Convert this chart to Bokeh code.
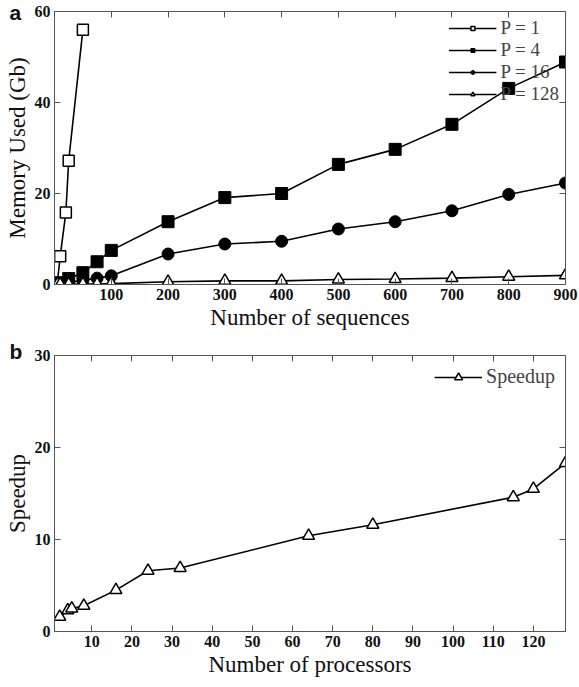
from bokeh.plotting import figure
from bokeh.layouts import column
from bokeh.models import LinearAxis, FixedTicker, Range1d, Legend
from bokeh.embed import file_html
from bokeh.resources import INLINE

# Panel a data
p1_x = [5, 10, 20, 25, 50]
p1_y = [0.3, 6.2, 15.8, 27.2, 56.0]
seq_x = [5, 10, 25, 50, 75, 100, 200, 300, 400, 500, 600, 700, 800, 900]
p4_y = [0.2, 0.4, 1.3, 2.6, 5.0, 7.5, 13.8, 19.1, 20.0, 26.4, 29.7, 35.2, 43.1, 48.9]
p16_y = [0.05, 0.1, 0.5, 0.9, 1.4, 1.9, 6.7, 8.9, 9.5, 12.2, 13.8, 16.2, 19.8, 22.3]
p128_y = [0.02, 0.03, 0.05, 0.1, 0.1, 0.2, 0.6, 0.8, 0.8, 1.1, 1.2, 1.4, 1.7, 2.0]
a_xticks = [100, 200, 300, 400, 500, 600, 700, 800, 900]
a_yticks = [0, 20, 40, 60]

# Panel b data
proc_x = [2, 4, 5, 8, 16, 24, 32, 64, 80, 115, 120, 128]
speedup = [1.6, 2.3, 2.5, 2.8, 4.5, 6.6, 6.9, 10.4, 11.6, 14.6, 15.5, 18.3]
b_xticks = [10, 20, 30, 40, 50, 60, 70, 80, 90, 100, 110, 120]
b_yticks = [0, 10, 20, 30]

SERIF = "Liberation Serif"


def style_axes(p, xticks, yticks, xlabel, ylabel):
    bottom = p.below[0]
    left = p.left[0]
    bottom.ticker = FixedTicker(ticks=xticks)
    left.ticker = FixedTicker(ticks=yticks)
    right = LinearAxis(ticker=FixedTicker(ticks=yticks),
                       major_label_overrides={t: "" for t in yticks})
    top = LinearAxis(ticker=FixedTicker(ticks=xticks),
                     major_label_overrides={t: "" for t in xticks})
    p.add_layout(right, "right")
    p.add_layout(top, "above")
    for ax in [right, top]:
        ax.major_label_standoff = 0
        ax.major_label_text_font_size = "1px"
    for ax in [bottom, left, right, top]:
        ax.major_tick_in = 6
        ax.major_tick_out = 0
        ax.minor_tick_line_color = None
        ax.axis_line_color = "#555555"
        ax.major_tick_line_color = "#555555"
        ax.major_label_text_font = SERIF
        ax.axis_label_text_font = SERIF
        ax.axis_label_text_font_style = "normal"
        ax.axis_label_text_color = "#111111"
        ax.major_label_text_color = "#111111"
    for ax in [bottom, left]:
        ax.major_label_text_font_size = "16px"
        ax.major_label_text_font_style = "bold"
        ax.axis_label_text_font_size = "23px"
        ax.major_label_standoff = 4
        ax.axis_label_standoff = 2
    bottom.axis_label = xlabel
    left.axis_label = ylabel
    p.xgrid.visible = False
    p.ygrid.visible = False
    p.outline_line_color = "#555555"


def panel_letter(p, letter, standoff):
    p.title.text = letter
    p.title.align = "left"
    p.title.vertical_align = "bottom"
    p.title.offset = -45
    p.title.standoff = standoff
    p.title.text_font = "Liberation Sans"
    p.title.text_font_size = "21px"
    p.title.text_font_style = "bold"
    p.title.text_color = "#111111"


pa = figure(width=579, height=335, output_backend="svg", toolbar_location=None,
            x_range=Range1d(0, 900), y_range=Range1d(0, 60),
            min_border_left=54, min_border_right=14, min_border_top=11, min_border_bottom=51)
style_axes(pa, a_xticks, a_yticks, "Number of sequences", "Memory Used (Gb)")
panel_letter(pa, "a", -24)

lw = 1.6
r1l = pa.line(p1_x, p1_y, line_color="black", line_width=lw)
r1s = pa.scatter(p1_x, p1_y, marker="square", size=11, fill_color="white", line_color="black", line_width=1.5)
r4l = pa.line(seq_x, p4_y, line_color="black", line_width=lw)
r4s = pa.scatter(seq_x, p4_y, marker="square", size=12, fill_color="black", line_color="black")
r16l = pa.line(seq_x, p16_y, line_color="black", line_width=lw)
r16s = pa.scatter(seq_x, p16_y, marker="circle", size=12, fill_color="black", line_color="black")
r128l = pa.line(seq_x, p128_y, line_color="black", line_width=lw)
r128s = pa.scatter(seq_x, p128_y, marker="triangle", size=12, fill_color="white", line_color="black", line_width=1.5)

leg_a = Legend(items=[("P = 1", [r1l, r1s]), ("P = 4", [r4l, r4s]),
                      ("P = 16", [r16l, r16s]), ("P = 128", [r128l, r128s])],
               location="top_right", background_fill_alpha=0, border_line_alpha=0,
               label_text_font=SERIF, label_text_font_size="19px",
               label_height=10, glyph_height=10, glyph_width=48, spacing=-8,
               padding=0, margin=6, label_standoff=4)
pa.add_layout(leg_a)

pb = figure(width=579, height=352, output_backend="svg", toolbar_location=None,
            x_range=Range1d(0.7, 128), y_range=Range1d(0, 30),
            min_border_left=54, min_border_right=6, min_border_top=20, min_border_bottom=56)
style_axes(pb, b_xticks, b_yticks, "Number of processors", "Speedup")
panel_letter(pb, "b", -14)
rbl = pb.line(proc_x, speedup, line_color="black", line_width=lw)
rbs = pb.scatter(proc_x, speedup, marker="triangle", size=12, fill_color="white", line_color="black", line_width=1.5)
leg_b = Legend(items=[("Speedup", [rbl, rbs])], location="top_right",
               background_fill_alpha=0, border_line_alpha=0,
               label_text_font=SERIF, label_text_font_size="20px",
               glyph_width=48, padding=6, margin=4, label_standoff=4)
pb.add_layout(leg_b)

layout = column(pa, pb, spacing=0)
open("out.html", "w").write(file_html(layout, INLINE))
